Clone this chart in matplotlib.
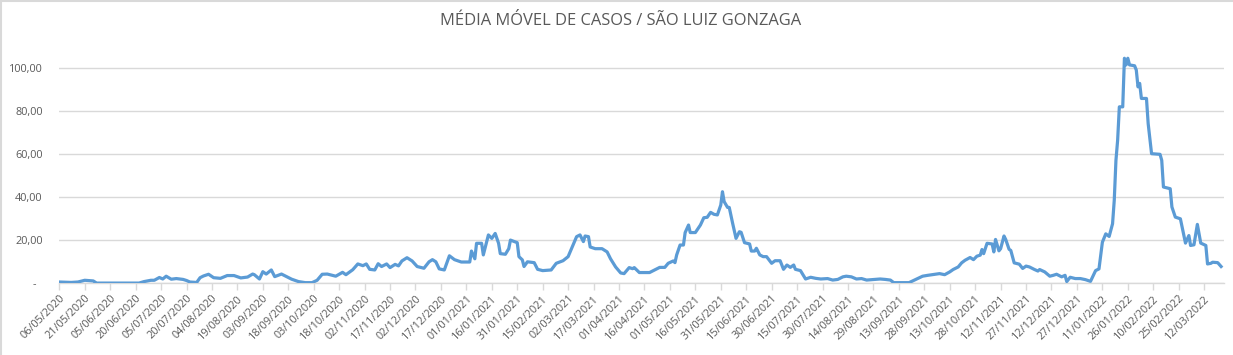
import matplotlib
matplotlib.use("Agg")
import matplotlib.pyplot as plt
import pandas as pd

# ---- data ----
start_date = "2020-05-06"
# days since start_date
day_offset = [
    0, 7, 11, 15, 20, 22, 47, 50, 54, 56, 59, 61, 63, 66, 69, 73, 75, 77, 81, 83,
    85, 88, 91, 95, 99, 103, 107, 111, 114, 115, 118, 120, 122, 125, 127, 131, 134, 137, 141, 145,
    149, 152, 155, 158, 163, 167, 169, 173, 176, 179, 181, 183, 186, 188, 190, 193, 195, 198, 200, 202,
    205, 208, 211, 215, 218, 220, 222, 224, 227, 230, 233, 237, 242, 243, 245, 246, 249, 250, 253, 255,
    257, 259, 260, 263, 265, 266, 270, 271, 273, 274, 276, 280, 282, 285, 290, 293, 297, 300, 302, 305,
    307, 309, 310, 312, 313, 316, 320, 323, 325, 328, 331, 333, 336, 338, 339, 342, 348, 351, 354, 357,
    359, 362, 363, 364, 366, 368, 369, 371, 372, 375, 378, 380, 382, 384, 386, 388, 390, 391, 392, 394,
    395, 397, 399, 401, 402, 404, 407, 408, 410, 411, 413, 415, 417, 420, 422, 425, 427, 429, 431, 433,
    434, 437, 440, 443, 446, 449, 453, 456, 459, 462, 464, 467, 470, 473, 476, 484, 487, 490, 492, 501,
    505, 509, 512, 519, 522, 525, 527, 530, 532, 534, 537, 539, 541, 543, 544, 545, 547, 550, 551, 552,
    554, 555, 557, 558, 560, 561, 563, 566, 568, 570, 572, 575, 577, 578, 581, 584, 586, 588, 591, 593,
    594, 596, 599, 602, 605, 608, 611, 613, 615, 617, 619, 621, 622, 623, 624, 625, 627, 628, 629, 630,
    631, 634, 635, 636, 637, 638, 641, 642, 644, 649, 650, 651, 655, 656, 658, 661, 664, 666, 667, 669,
    671, 673, 676, 677, 679, 680, 683, 685,
]
media_movel = [
    0.6, 0.4, 0.6, 1.4, 1.1, 0.1, 0.1, 0.8, 1.4, 1.4, 2.7, 2.0, 3.3, 1.9, 2.2, 1.8, 1.3, 0.6, 0.4, 2.6,
    3.4, 4.2, 2.6, 2.3, 3.6, 3.6, 2.5, 2.9, 4.3, 4.0, 2.0, 5.4, 4.3, 6.2, 3.1, 4.3, 3.1, 1.9, 0.8, 0.3,
    0.3, 1.4, 4.2, 4.3, 3.3, 5.1, 4.0, 6.3, 9.0, 8.2, 9.0, 6.5, 6.2, 9.1, 7.8, 9.0, 7.3, 8.8, 8.1, 10.4,
    11.9, 10.4, 7.8, 7.0, 10.0, 11.0, 10.0, 6.7, 6.2, 12.8, 11.0, 9.9, 9.9, 15.0, 11.4, 18.6, 18.6, 13.2, 22.5, 20.9,
    23.2, 18.6, 13.8, 13.5, 16.1, 20.1, 18.9, 12.4, 10.9, 7.8, 10.0, 9.6, 6.5, 5.9, 6.2, 9.3, 10.5, 12.4, 16.1, 21.7,
    22.5, 19.4, 22.0, 21.7, 16.9, 16.1, 16.1, 14.6, 11.4, 7.6, 4.8, 4.5, 7.3, 6.8, 7.3, 5.0, 5.0, 6.2, 7.4, 7.4,
    9.3, 10.4, 9.6, 13.2, 17.8, 17.8, 23.6, 27.1, 23.6, 23.6, 27.1, 30.5, 30.7, 33.0, 32.1, 31.8, 36.4, 42.6, 38.0, 35.3,
    35.3, 27.9, 20.9, 24.0, 23.7, 18.9, 18.3, 15.0, 15.0, 16.3, 13.2, 12.4, 12.4, 9.3, 10.5, 10.5, 6.5, 8.5, 7.4, 8.5,
    6.5, 5.9, 2.0, 2.8, 2.3, 2.0, 2.2, 1.5, 1.8, 3.0, 3.3, 3.0, 2.0, 2.2, 1.5, 2.0, 1.8, 1.5, 0.3, 0.3,
    1.8, 3.3, 3.7, 4.5, 4.0, 5.3, 6.4, 7.6, 9.5, 10.7, 12.0, 11.0, 12.6, 13.1, 15.7, 13.8, 18.6, 18.3, 14.6, 20.4,
    15.1, 16.1, 22.0, 20.4, 15.8, 15.3, 9.5, 8.9, 6.9, 8.0, 7.6, 6.4, 5.7, 6.4, 5.3, 3.3, 3.7, 4.2, 3.0, 3.7,
    0.8, 2.8, 2.2, 2.2, 1.7, 0.9, 5.9, 6.7, 19.1, 23.0, 21.8, 27.7, 38.6, 57.2, 66.6, 82.1, 82.1, 104.7, 101.6, 104.7,
    101.6, 101.2, 99.2, 91.4, 93.0, 86.0, 86.0, 74.3, 60.3, 60.0, 57.2, 44.8, 44.0, 35.5, 30.8, 30.0, 18.7, 22.2, 17.6, 17.9,
    27.4, 18.7, 17.6, 9.0, 9.3, 9.8, 9.6, 7.8,
]
title = "MÉDIA MÓVEL DE CASOS / SÃO LUIZ GONZAGA"
y_ticks = [0, 20, 40, 60, 80, 100]
y_tick_labels = ["-  ", "20,00", "40,00", "60,00", "80,00", "100,00"]
tick_every_days = 15
last_tick_day = 675
axis_end_day = 687

plt.rcParams["font.family"] = ["Open Sans", "DejaVu Sans"]
TXT = "#595959"

dates = pd.Timestamp(start_date) + pd.to_timedelta(day_offset, unit="D")
tick_dates = pd.Timestamp(start_date) + pd.to_timedelta(list(range(0, last_tick_day + 1, tick_every_days)), unit="D")

fig = plt.figure(figsize=(12.33, 3.55), dpi=100)
ax = fig.add_axes([0.0481, 0.202, 0.945, 0.666])

ax.plot(dates, media_movel, color="#5B9BD5", lw=2.3, solid_joinstyle="round", zorder=3)

ax.set_xlim(pd.Timestamp(start_date), pd.Timestamp(start_date) + pd.Timedelta(days=axis_end_day))
ax.set_ylim(0, 110)
ax.set_yticks(y_ticks)
ax.set_yticklabels(y_tick_labels)
ax.set_xticks(tick_dates)
ax.set_xticklabels([d.strftime("%d/%m/%Y") for d in tick_dates], rotation=45, ha="right",
                   rotation_mode="anchor")

ax.grid(axis="y", color="#d9d9d9", lw=1)
ax.set_axisbelow(True)
for s in ["top", "right", "left"]:
    ax.spines[s].set_visible(False)
ax.spines["bottom"].set_color("#d9d9d9")
ax.spines["bottom"].set_linewidth(1)
ax.tick_params(axis="x", colors="#d9d9d9", labelcolor=TXT, length=5, width=1, labelsize=7.8, pad=2)
ax.tick_params(axis="y", length=0, labelcolor=TXT, labelsize=7.8, pad=12)

fig.text(0.5035, 0.94, title, ha="center", va="center", fontsize=11.9, color=TXT)

# chart border (left and top visible)
fig.add_artist(plt.Line2D([0.0005, 0.0005], [0, 1], transform=fig.transFigure, color="#d9d9d9", lw=1.5))
fig.add_artist(plt.Line2D([0, 1], [0.998, 0.998], transform=fig.transFigure, color="#d9d9d9", lw=1.5))

fig.savefig("out.png", dpi=100)
